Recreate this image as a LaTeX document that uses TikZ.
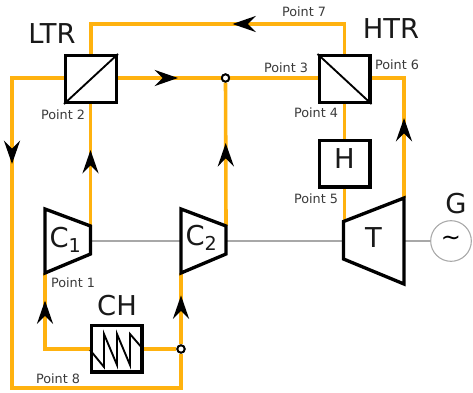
\documentclass[tikz,border=0pt]{standalone}
\usepackage{fontspec}
\setmainfont{DejaVu Sans}
\usetikzlibrary{arrows.meta,decorations.markings}
\definecolor{flowc}{HTML}{FFB20F}
\definecolor{shaftc}{HTML}{A8A8A8}
\definecolor{ptc}{HTML}{3A3A3A}
\tikzset{
  x=0.75pt,y=-0.75pt,
  flow/.style={draw=flowc,line width=2.7pt,line join=miter},
  tipat/.style={postaction={decorate,decoration={markings,mark=at position #1*0.75pt with {\arrow[black]{Stealth[length=17.5pt,width=12pt,inset=6pt]}}}}},
  shaft/.style={draw=shaftc,line width=0.9pt},
  unit/.style={draw=black,line width=2.5pt,line join=miter,fill=white},
  boxn/.style={unit,rectangle,minimum width=38pt,minimum height=35pt,inner sep=0pt},
  inner/.style={draw=black,line width=1.4pt},
  junc/.style={circle,draw=black,fill=white,line width=1.4pt,minimum size=5.5pt,inner sep=0pt},
  big/.style={font=\fontsize{20.5}{20.5}\selectfont,inner sep=0pt,text=black!90},
  pt/.style={font=\fontsize{9.6}{10}\selectfont,text=ptc,inner sep=0pt},
}
\begin{document}
\begin{tikzpicture}
\useasboundingbox (0,0) rectangle (473,392);
% machine geometry
\coordinate (c1a) at (45,209); \coordinate (c1b) at (90.5,226); \coordinate (c1c) at (90.5,254); \coordinate (c1d) at (45,273);
\coordinate (c2a) at (181,209); \coordinate (c2b) at (226,226); \coordinate (c2c) at (226,254); \coordinate (c2d) at (181,273);
\coordinate (ta) at (343.5,221.5); \coordinate (tb) at (404,198); \coordinate (tc) at (404,284); \coordinate (td) at (343.5,259);
\coordinate (c1s) at (90.5,241); \coordinate (c2i) at (181,241); \coordinate (c2s) at (226,241); \coordinate (ti) at (343.5,241); \coordinate (ts) at (404,241);
% named nodes
\node[boxn] (ltr) at (91,79) {};
\node[boxn] (htr) at (344.5,79) {};
\node[boxn] (h) at (344.5,163.5) {};
\node[boxn] (ch) at (116.5,348.5) {};
\node[junc] (j1) at (225.5,78) {};
\node[junc] (j2) at (181,349) {};
\node[circle,draw=shaftc,line width=0.8pt,minimum size=30.5pt,inner sep=0pt,fill=white] (g) at (451,241) {};
% corner way-points
\coordinate (w1) at (ltr.north |- 0,24); \coordinate (w2) at (htr.north |- 0,24);
\coordinate (w3) at (12,78); \coordinate (w4) at (12,388); \coordinate (w5) at (181,388);
\coordinate (w6) at (404,78); \coordinate (w7) at (45,349);
% connectors
\draw[shaft] (c1s) -- (c2i);
\draw[shaft] (c2s) -- (ti);
\draw[shaft] (ts) -- (g);
\path[flow,draw,tipat=76] (c1b) -- (c1b |- ltr.south);
\path[flow,draw,tipat=142] (htr.north) -- (w2) -- (w1) -- (ltr.north);
\path[flow,draw,tipat=60] (ltr.east |- j1) -- (j1);
\draw[flow] (j1) -- (htr.west |- j1);
\path[flow,draw,tipat=83] (c2b) -- (j1);
\draw[flow] (htr.south) -- (h.north);
\draw[flow] (h.south) -- (h.south |- ta);
\path[flow,draw,tipat=80] (tb) -- (w6) -- (htr.east |- w6);
\path[flow,draw,tipat=138] (ltr.west |- w3) -- (w3) -- (w4) -- (w5) -- (j2);
\path[flow,draw,tipat=49] (j2) -- (c2d);
\path[flow,draw,tipat=93] (ch.west |- w7) -- (w7) -- (c1d);
\draw[flow] (ch.east |- j2) -- (j2);
% redraw boxes over connectors
\node[boxn] at (ltr) {};
\node[boxn] at (htr) {};
\node[boxn] at (h) {};
\node[boxn] at (ch) {};
\node[junc] at (j1) {};
\node[junc] at (j2) {};
\draw[inner] (ltr.south west) -- (ltr.north east);
\draw[inner] (htr.north west) -- (htr.south east);
\draw[inner,line join=miter] (90,350) -- (104,367) -- (104,334) -- (117,365) -- (117,334) -- (130,365) -- (130,334) -- (143,349);
% turbomachines
\draw[unit] (c1a) -- (c1b) -- (c1c) -- (c1d) -- cycle;
\draw[unit] (c2a) -- (c2b) -- (c2c) -- (c2d) -- cycle;
\draw[unit] (ta) -- (tb) -- (tc) -- (td) -- cycle;
% texts
\node[big] (tltr) at (52,34) {LTR};
\node[big] (thtr) at (391,29) {HTR};
\node[big] (th) at (344.5,159) {H};
\node[big] (tc1) at (65.5,240) {C$_{\mathrm{1}}$};
\node[big] (tc2) at (201.5,238) {C$_{\mathrm{2}}$};
\node[big] (tch) at (117,306) {CH};
\node[big] (tt) at (373.5,238) {T};
\node[big] (tg) at (456,204) {G};
\node[font=\fontsize{18}{18}\selectfont,inner sep=0pt] (tilde) at (g) {\char"223C};
\node[pt] (p1) at (73,283) {Point 1};
\node[pt] (p2) at (63,115) {Point 2};
\node[pt] (p3) at (286,68) {Point 3};
\node[pt] (p4) at (316,113) {Point 4};
\node[pt] (p5) at (316,199) {Point 5};
\node[pt] (p6) at (397,65) {Point 6};
\node[pt] (p7) at (304,11.5) {Point 7};
\node[pt] (p8) at (58,379) {Point 8};
\end{tikzpicture}
\end{document}
